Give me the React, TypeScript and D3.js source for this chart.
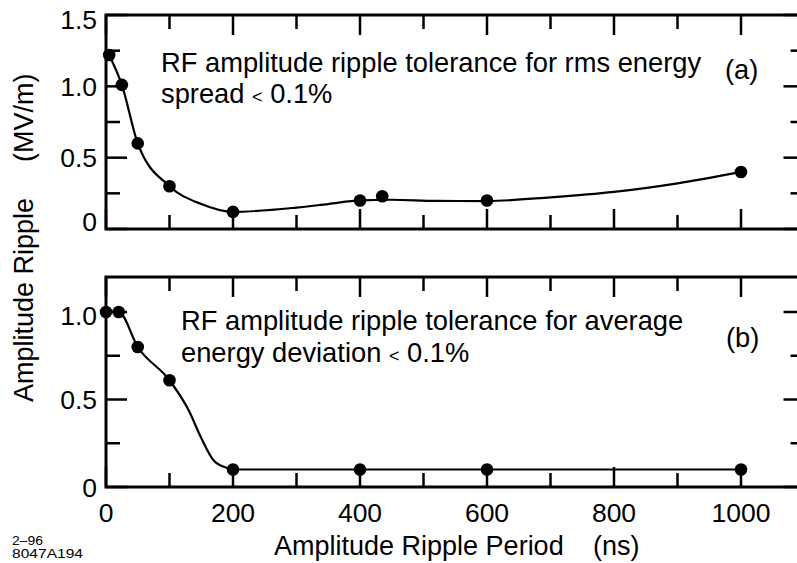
import React from 'react';
import * as d3 from 'd3';

// ---------- data ----------
const xTickValues = [0, 100, 200, 300, 400, 500, 600, 700, 800, 900, 1000, 1100];
const xLabelValues = [0, 200, 400, 600, 800, 1000];

const rmsPoints: [number, number][] = [
  [5, 1.22], [25, 1.01], [50, 0.6], [100, 0.3], [200, 0.12],
  [400, 0.2], [435, 0.23], [600, 0.2], [1000, 0.4],
];
const rmsCurve: [number, number][] = [
  [5, 1.22], [25, 1.01], [50, 0.6], [100, 0.3], [150, 0.175], [200, 0.12],
  [300, 0.15], [350, 0.175], [400, 0.2], [450, 0.205], [520, 0.197], [600, 0.196],
  [700, 0.222], [800, 0.26], [900, 0.32], [1000, 0.4],
];

const avgPoints: [number, number][] = [
  [0, 1.0], [20, 1.0], [50, 0.8], [100, 0.61], [200, 0.1],
  [400, 0.1], [600, 0.1], [1000, 0.1],
];
const avgCurve: [number, number][] = [
  [0, 1.0], [20, 1.0], [50, 0.8], [100, 0.61], [130, 0.44], [150, 0.28],
  [170, 0.15], [190, 0.11], [200, 0.1], [400, 0.1], [600, 0.1], [1000, 0.1],
];

const yTicksA = [0, 0.25, 0.5, 0.75, 1.0, 1.25, 1.5];
const yLabelsA = [0, 0.5, 1.0, 1.5];
const yTicksB = [0, 0.25, 0.5, 0.75, 1.0];
const yLabelsB = [0, 0.5, 1.0];

const FONT = '"Liberation Sans", Arial, Helvetica, sans-serif';

const x = d3.scaleLinear().domain([0, 1100]).range([106, 804.5]);
const yA = d3.scaleLinear().domain([0, 1.5]).range([229, 15]);
const yB = d3.scaleLinear().domain([0, 1.2]).range([487, 277]);

const fmt = (v: number) => (v === 0 ? '0' : v.toFixed(1));

function Panel({ y, ticks, labels, points, curve, labelShift }: any) {
  const [y0, y1] = y.range();
  const x0 = x(0);
  const x1 = x(1100);
  const line = d3
    .line<[number, number]>()
    .x((d) => x(d[0]))
    .y((d) => y(d[1]))
    .curve(d3.curveMonotoneX);
  const isMajorY = (v: number) => Math.abs((v * 2) % 1) < 1e-6;
  return (
    <g>
      {xTickValues.map((v) => {
        const len = v % 200 === 0 ? 20 : 14;
        return (
          <g key={'xt' + v} stroke="#000" strokeWidth={2.5}>
            <line x1={x(v)} x2={x(v)} y1={y1} y2={y1 + len} />
            <line x1={x(v)} x2={x(v)} y1={y0} y2={y0 - len} />
          </g>
        );
      })}
      {ticks.map((v: number) => {
        const len = isMajorY(v) ? 21 : 14;
        return (
          <g key={'yt' + v} stroke="#000" strokeWidth={2.5}>
            <line x1={x0} x2={x0 + len} y1={y(v)} y2={y(v)} />
            <line x1={x1} x2={x1 - len} y1={y(v)} y2={y(v)} />
          </g>
        );
      })}
      {labels.map((v: number) => (
        <text
          key={'yl' + v}
          x={97}
          y={y(v) + 9.5 + (labelShift(v) || 0)}
          textAnchor="end"
          fontFamily={FONT}
          fontSize={26.5}
          fill="#000"
        >
          {fmt(v)}
        </text>
      ))}
      <rect x={x0} y={y1} width={x1 - x0} height={y0 - y1} fill="none" stroke="#000" strokeWidth={3} />
      <path d={line(curve) || ''} fill="none" stroke="#000" strokeWidth={2.2} />
      {points.map((p: [number, number], i: number) => (
        <circle key={'p' + i} cx={x(p[0])} cy={y(p[1])} r={6.3} fill="#000" />
      ))}
    </g>
  );
}

export default function App() {
  return (
    <svg
      width={797}
      height={563}
      viewBox="0 0 797 563"
      style={{ position: 'absolute', left: 0, top: 0, background: '#fff' }}
    >
      <rect x={0} y={0} width={797} height={563} fill="#fff" />
      <Panel
        y={yA}
        ticks={yTicksA}
        labels={yLabelsA}
        points={rmsPoints}
        curve={rmsCurve}
        labelShift={(v: number) => (v === 0 ? -8 : v === 1.5 ? 4 : 0)}
      />
      <Panel
        y={yB}
        ticks={yTicksB}
        labels={yLabelsB}
        points={avgPoints}
        curve={avgCurve}
        labelShift={(v: number) => (v === 1.0 ? 3 : 0)}
      />

      <g fontFamily={FONT} fontSize={27.3} fill="#000">
        <text x={161} y={72}>RF amplitude ripple tolerance for rms energy</text>
        <text x={161} y={103}>
          spread <tspan fontSize={18}>{'<'}</tspan> 0.1%
        </text>
        <text x={725} y={79}>(a)</text>

        <text x={181} y={330}>RF amplitude ripple tolerance for average</text>
        <text x={181} y={362}>
          energy deviation <tspan fontSize={18}>{'<'}</tspan> 0.1%
        </text>
        <text x={726} y={347}>(b)</text>
      </g>

      {xLabelValues.map((v) => (
        <text
          key={'xl' + v}
          x={x(v)}
          y={522}
          textAnchor="middle"
          fontFamily={FONT}
          fontSize={26.5}
          fill="#000"
        >
          {v}
        </text>
      ))}

      <g fontFamily={FONT} fontSize={27} fill="#000">
        <text x={274} y={555}>Amplitude Ripple Period</text>
        <text x={593} y={555}>(ns)</text>
        <text transform="translate(33,402) rotate(-90)">Amplitude Ripple</text>
        <text transform="translate(33,162) rotate(-90)">(MV/m)</text>
      </g>

      <g fontFamily={FONT} fontSize={12.5} fill="#000">
        <text x={12} y={545} textLength={31} lengthAdjust="spacingAndGlyphs">2–96</text>
        <text x={12} y={558} textLength={71} lengthAdjust="spacingAndGlyphs">8047A194</text>
      </g>
    </svg>
  );
}
